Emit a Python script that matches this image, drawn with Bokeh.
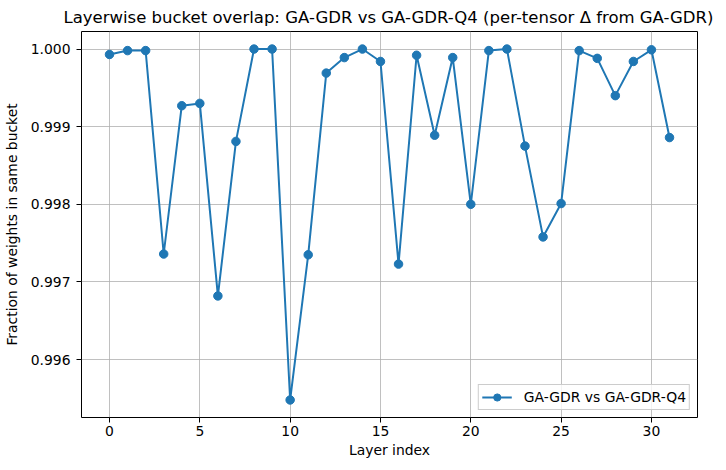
from bokeh.plotting import figure
from bokeh.models import FixedTicker, PrintfTickFormatter, Range1d, ColumnDataSource, Legend, Title
from bokeh.embed import file_html
from bokeh.resources import INLINE

layers = list(range(32))
overlap = [0.99993, 0.99998, 0.99998, 0.99736, 0.99927, 0.99930, 0.99682, 0.99881,
           1.00000, 1.00000, 0.99548, 0.99735, 0.99969, 0.99989, 1.00000, 0.99984,
           0.99723, 0.99992, 0.99889, 0.99989, 0.99800, 0.99998, 1.00000, 0.99875,
           0.99758, 0.99801, 0.99998, 0.99988, 0.99940, 0.99984, 0.99999, 0.99886]
x_ticks = [0, 5, 10, 15, 20, 25, 30]
y_ticks = [0.996, 0.997, 0.998, 0.999, 1.000]
series_label = "GA-GDR vs GA-GDR-Q4"
title_text = "Layerwise bucket overlap: GA-GDR vs GA-GDR-Q4 (per-tensor \u0394 from GA-GDR)"

FONT = "DejaVu Sans"
BLUE = "#1f77b4"

ymin, ymax = min(overlap), max(overlap)
ypad = (ymax - ymin) * 0.05
xpad = (max(layers) - min(layers)) * 0.05
x0, x1 = min(layers) - xpad, max(layers) + xpad
y0, y1 = ymin - ypad, ymax + ypad

p = figure(width=716, height=462, output_backend="svg", toolbar_location=None,
           x_range=Range1d(x0, x1), y_range=Range1d(y0, y1),
           min_border_left=71, min_border_right=19, min_border_top=25, min_border_bottom=45)

t = Title(text=title_text, align="left", offset=-18, text_font=FONT,
          text_font_size="16.5px", text_font_style="normal", text_color="black")
p.title = t

src = ColumnDataSource(dict(x=layers, y=overlap))
l = p.line("x", "y", source=src, line_color=BLUE, line_width=2)
s = p.scatter("x", "y", source=src, size=8.5, fill_color=BLUE, line_color=BLUE)

legend = Legend(items=[(series_label, [l, s])], location="bottom_right")
legend.label_text_font = FONT
legend.label_text_font_size = "13.9px"
legend.label_text_color = "black"
legend.border_line_color = "#cccccc"
legend.border_line_alpha = 1
legend.background_fill_alpha = 0.8
legend.margin = 7
legend.padding = 3
legend.spacing = 0
legend.glyph_width = 30
legend.glyph_height = 18
legend.label_height = 18
legend.label_standoff = 12
p.add_layout(legend)

p.xaxis.ticker = FixedTicker(ticks=x_ticks)
p.yaxis.ticker = FixedTicker(ticks=y_ticks)
p.yaxis.formatter = PrintfTickFormatter(format="%.3f")
p.xaxis.axis_label = "Layer index"
p.yaxis.axis_label = "Fraction of weights in same bucket"
for ax in (p.xaxis, p.yaxis):
    ax.axis_label_text_font = FONT
    ax.axis_label_text_font_size = "13.9px"
    ax.axis_label_text_font_style = "normal"
    ax.major_label_text_font = FONT
    ax.major_label_text_font_size = "13.9px"
    ax.major_tick_out = 5
    ax.major_tick_in = 0
    ax.minor_tick_line_color = None
    ax.axis_line_color = None
    ax.major_tick_line_color = "black"
    ax.major_label_text_color = "black"
    ax.axis_label_text_color = "black"

p.xaxis.major_label_standoff = 3
p.xaxis.axis_label_standoff = 3
p.yaxis.major_label_standoff = 6
p.yaxis.axis_label_standoff = 8

p.grid.grid_line_color = "#b0b0b0"
p.grid.grid_line_width = 0.8
p.outline_line_color = "black"
p.outline_line_width = 1
p.outline_line_alpha = 1

open("out.html", "w").write(file_html(p, INLINE))
